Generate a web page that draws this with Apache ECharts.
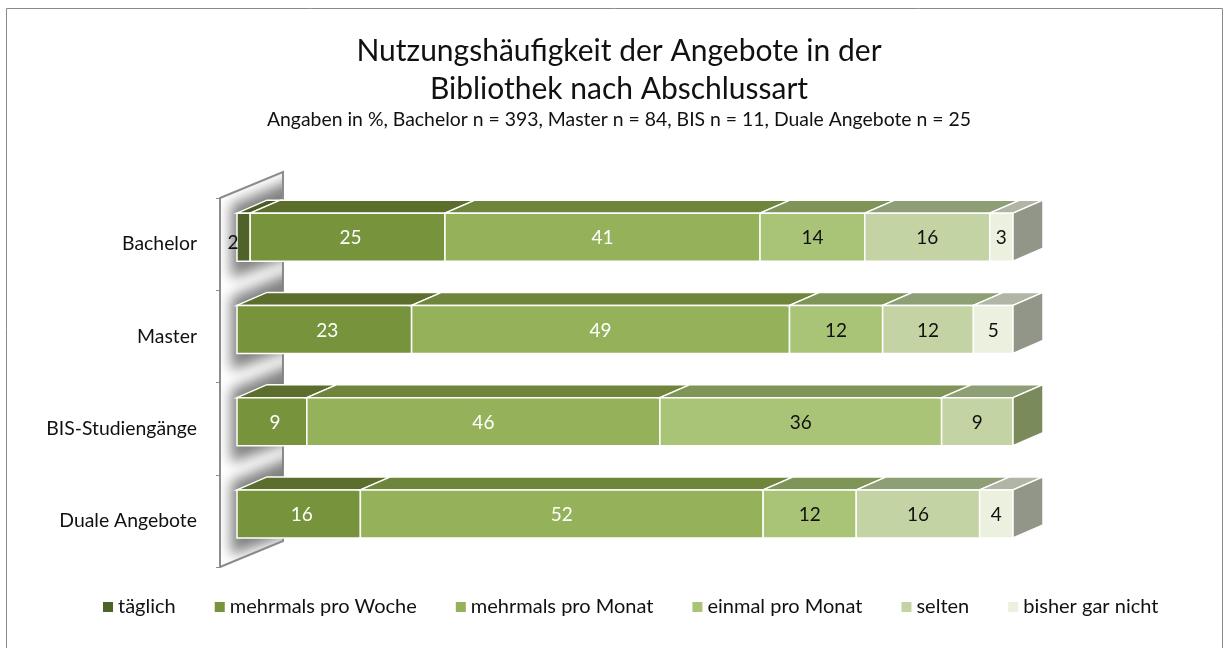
<!DOCTYPE html>
<html>
<head>
<meta charset="UTF-8">
<title>Nutzungshäufigkeit</title>
<style>
html,body{margin:0;padding:0;background:#fff;overflow:hidden}
#chart{width:1229px;height:648px}
</style>
</head>
<body>
<div id="chart"></div>
<script src="https://cdn.jsdelivr.net/npm/echarts@6/dist/echarts.min.js"></script>
<script>
// Werte (Anteile je Abschlussart in %)
var categories = ['Bachelor', 'Master', 'BIS-Studiengänge', 'Duale Angebote'];
var seriesNames = ['täglich', 'mehrmals pro Woche', 'mehrmals pro Monat', 'einmal pro Monat', 'selten', 'bisher gar nicht'];
var taeglich = [1.7, 0, 0, 0];
var proWoche = [25.1, 22.5, 9.0, 15.9];
var proMonat = [40.6, 48.7, 45.5, 51.9];
var einmalMonat = [13.5, 12.0, 36.3, 12.0];
var selten = [16.1, 11.7, 9.2, 15.9];
var garNicht = [3.0, 5.1, 0, 4.3];
var allValues = [taeglich, proWoche, proMonat, einmalMonat, selten, garNicht];

// Farben: Vorderseite, Oberseite, rechte Seite, Beschriftung
var frontColors = ['#4f6228', '#77933c', '#95b25a', '#aac477', '#c3d3a4', '#ebf1de'];
var topColors = ['#4a5c25', '#5b6e2b', '#6f853c', '#7f9558', '#8f9f75', '#b0b5a5'];
var sideColors = ['#3d4d1e', '#55672a', '#66793a', '#6f8050', '#7a8a5a', '#929689'];
var labelColors = ['#111', '#fff', '#fff', '#111', '#111', '#111'];

var fontName = 'Lato';
// Tiefe des 3D-Effekts: Wand gesamt, Balken vorn und hinten
var wallDx = 63, wallDy = -26;
var barDx = 17, barDy = -7;
var depthX = 30, depthY = -13;
var barHeight = 48;

function poly(points, fill, stroke) {
	return {
		type: 'polygon',
		shape: {points: points},
		style: {fill: fill, stroke: stroke || '#fff', lineWidth: 1.5}
	};
}

function renderBar(s) {
	return function (params, api) {
		var start = api.coord([api.value(0), api.value(2)]);
		var end = api.coord([api.value(1), api.value(2)]);
		var x0 = start[0] + barDx, x1 = end[0] + barDx;
		var y0 = start[1] + barDy - barHeight / 2, y1 = y0 + barHeight;
		var children = [
			poly([[x0, y0], [x0 + depthX, y0 + depthY], [x1 + depthX, y0 + depthY], [x1, y0]], topColors[s]),
			poly([[x0, y0], [x1, y0], [x1, y1], [x0, y1]], frontColors[s])
		];
		// rechte Seite nur beim letzten Segment
		if (api.value(4) === 1) {
			children.push(poly([[x1, y0], [x1 + depthX, y0 + depthY], [x1 + depthX, y1 + depthY], [x1, y1]], sideColors[s]));
		}
		// das kleine Segment 2 steht versetzt links
		var small = api.value(3) < 5 && s === 0;
		children.push({
			type: 'text',
			style: {
				text: String(Math.round(api.value(3))),
				x: small ? x0 - 4 : (x0 + x1) / 2 + (s === 1 ? 3 : 0),
				y: (y0 + y1) / 2 + (small ? 6 : 1),
				align: 'center',
				verticalAlign: 'middle',
				fill: labelColors[s],
				font: '19px ' + fontName
			}
		});
		return {type: 'group', children: children};
	};
}

function renderWall(params, api) {
	var i = api.value(0);
	var c = api.coord([0, i]);
	var band = api.size([0, 1])[1];
	var top = c[1] - band / 2, bottom = c[1] + band / 2;
	var x = c[0];
	var wallTop = top - band * i;
	var wallEnd = wallTop + band * categories.length;
	// Schatten der Balken auf der Wand: nur der Weichzeichner ist sichtbar
	var far = 3000;
	var shadow = {
		type: 'group',
		clipPath: {
			type: 'polygon',
			shape: {points: [[x + 1, wallTop], [x + wallDx, wallTop + wallDy], [x + wallDx, wallEnd + wallDy], [x + 1, wallEnd]]}
		},
		children: [{
			type: 'polygon',
			shape: {points: [[x + 11 - far, top + 7], [x + 80 - far, top - 22], [x + 80 - far, bottom - 36], [x + 11 - far, bottom - 12]]},
			style: {fill: '#888', shadowColor: '#808080', shadowBlur: 13, shadowOffsetX: far}
		}]
	};
	var children = [shadow];
	if (i === 0) {
		var line = {stroke: '#8c8c8c', lineWidth: 2, fill: 'none'};
		children.push({type: 'polyline', shape: {points: [[x, wallTop], [x + wallDx, wallTop + wallDy], [x + wallDx, wallEnd + wallDy], [x, wallEnd]]}, style: line});
	}
	return {type: 'group', children: children};
}

var series = [{
	name: 'wand',
	type: 'custom',
	z: 1,
	silent: true,
	renderItem: renderWall,
	encode: {y: 0},
	data: categories.map(function (c, i) { return [i]; })
}];

seriesNames.forEach(function (name, s) {
	var rows = [];
	categories.forEach(function (c, i) {
		var v = allValues[s][i];
		if (!v) return;
		var start = 0, isLast = 1;
		for (var k = 0; k < s; k++) start += allValues[k][i];
		for (var m = s + 1; m < allValues.length; m++) if (allValues[m][i]) isLast = 0;
		rows.push([start, start + v, i, v, isLast]);
	});
	series.push({
		name: name,
		type: 'custom',
		z: 2 + s,
		itemStyle: {color: frontColors[s]},
		renderItem: renderBar(s),
		encode: {x: [0, 1], y: 2},
		data: rows
	});
});

var chart = echarts.init(document.getElementById('chart'));
chart.setOption({
	animation: false,
	backgroundColor: '#fff',
	textStyle: {fontFamily: fontName},
	graphic: [{
		type: 'rect',
		silent: true,
		shape: {x: 6.5, y: 8.5, width: 1216, height: 660},
		style: {fill: 'none', stroke: '#8a8a8a', lineWidth: 1}
	}],
	title: {
		text: 'Nutzungshäufigkeit der Angebote in der\nBibliothek nach Abschlussart',
		subtext: 'Angaben in %, Bachelor n = 393, Master n = 84, BIS n = 11, Duale Angebote n = 25',
		left: 614,
		top: 27,
		textAlign: 'center',
		itemGap: 2,
		textStyle: {fontFamily: fontName, fontSize: 30, fontWeight: 'normal', color: '#111', lineHeight: 38},
		subtextStyle: {fontFamily: fontName, fontSize: 19.4, color: '#111'}
	},
	legend: {
		data: seriesNames,
		left: 98,
		top: 592,
		icon: 'rect',
		itemWidth: 10,
		itemHeight: 10,
		itemGap: 39,
		textStyle: {fontFamily: fontName, fontSize: 20, color: '#111'}
	},
	grid: {left: 220, top: 198, width: 776, height: 369},
	xAxis: {type: 'value', min: 0, max: 100, show: false},
	yAxis: {
		type: 'category',
		inverse: true,
		data: categories,
		z: 20,
		axisLine: {show: true, lineStyle: {color: '#8c8c8c', width: 2}},
		axisTick: {show: true, length: 4, lineStyle: {color: '#8c8c8c', width: 1}},
		axisLabel: {margin: 23, fontSize: 19.4, fontFamily: fontName, color: '#111'}
	},
	series: series
});
</script>
</body>
</html>
